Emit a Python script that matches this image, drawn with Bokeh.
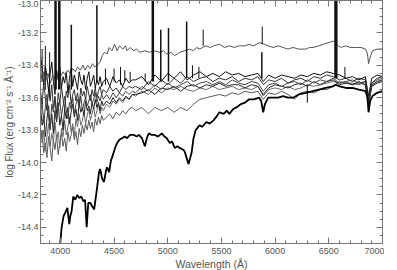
import numpy as np
from bokeh.plotting import figure
from bokeh.models import (FixedTicker, LinearAxis, Range1d, PrintfTickFormatter, ColumnDataSource,
                          CustomJSTickFormatter)
from bokeh.embed import file_html
from bokeh.resources import INLINE

# ---------------- data ----------------
wave_grid = [3815, 3830, 3845, 3860, 3875, 3890, 3905, 3920, 3935, 3950, 3965, 3980, 3995, 4010,
             4025, 4040, 4055, 4070, 4085, 4100, 4115, 4130, 4145, 4160, 4175, 4190, 4205, 4220,
             4235, 4250, 4265, 4280, 4295, 4310, 4325, 4340, 4355, 4370, 4385, 4400,
             4430, 4460, 4490, 4520, 4550, 4580, 4610, 4640, 4670,
             4700, 4760, 4820, 4880, 4940, 5000, 5060, 5120, 5180, 5240, 5300, 5360, 5420, 5480, 5540,
             5600, 5660, 5720, 5780, 5840, 5890, 5940, 6000, 6060, 6120, 6180, 6240, 6300, 6360, 6420,
             6480, 6540, 6600, 6660, 6720, 6780, 6840, 6870, 6900, 6950, 7000]

flux_m1 = [-13.34, -13.42, -13.52, -13.40, -13.47, -13.56, -13.45, -13.38, -13.50, -13.58, -13.43, -13.49,
           -13.41, -13.54, -13.47, -13.51, -13.44, -13.57, -13.48, -13.42, -13.53, -13.46, -13.50, -13.55,
           -13.44, -13.49, -13.52, -13.46, -13.55, -13.48, -13.44, -13.53, -13.50, -13.46, -13.54, -13.49,
           -13.52, -13.47, -13.53, -13.50,
           -13.48, -13.53, -13.47, -13.51, -13.49, -13.53, -13.48, -13.51, -13.49,
           -13.49, -13.47, -13.52, -13.46, -13.50, -13.45, -13.48, -13.44, -13.49, -13.46, -13.44, -13.47,
           -13.45, -13.47, -13.44, -13.46, -13.45, -13.47, -13.46, -13.45, -13.50, -13.46, -13.48, -13.46,
           -13.47, -13.48, -13.46, -13.47, -13.45, -13.46, -13.44, -13.45, -13.46, -13.48, -13.47, -13.49,
           -13.47, -13.59, -13.48, -13.46, -13.47]
flux_m2 = [-13.56, -13.64, -13.50, -13.60, -13.68, -13.55, -13.62, -13.52, -13.66, -13.59, -13.70, -13.57,
           -13.63, -13.53, -13.61, -13.67, -13.56, -13.60, -13.52, -13.64, -13.58, -13.55, -13.62, -13.57,
           -13.65, -13.54, -13.59, -13.56, -13.61, -13.53, -13.58, -13.62, -13.55, -13.59, -13.54, -13.60,
           -13.56, -13.53, -13.58, -13.55,
           -13.57, -13.53, -13.56, -13.54, -13.57, -13.53, -13.55, -13.53, -13.54,
           -13.53, -13.55, -13.50, -13.53, -13.49, -13.52, -13.48, -13.51, -13.47, -13.50, -13.48, -13.47,
           -13.50, -13.48, -13.49, -13.47, -13.50, -13.48, -13.49, -13.47, -13.52, -13.49, -13.50, -13.48,
           -13.51, -13.49, -13.48, -13.50, -13.47, -13.48, -13.46, -13.47, -13.49, -13.48, -13.50, -13.48,
           -13.49, -13.61, -13.51, -13.48, -13.47]
flux_m3 = [-13.70, -13.62, -13.76, -13.66, -13.58, -13.72, -13.80, -13.64, -13.69, -13.60, -13.74, -13.67,
           -13.62, -13.71, -13.65, -13.59, -13.68, -13.73, -13.63, -13.67, -13.60, -13.70, -13.64, -13.61,
           -13.66, -13.59, -13.68, -13.63, -13.60, -13.65, -13.62, -13.58, -13.64, -13.61, -13.57, -13.63,
           -13.59, -13.62, -13.58, -13.61,
           -13.58, -13.61, -13.57, -13.60, -13.57, -13.59, -13.56, -13.58, -13.56,
           -13.57, -13.53, -13.56, -13.52, -13.55, -13.51, -13.54, -13.52, -13.50, -13.53, -13.51, -13.50,
           -13.52, -13.50, -13.52, -13.49, -13.51, -13.52, -13.50, -13.51, -13.56, -13.52, -13.51, -13.53,
           -13.51, -13.50, -13.52, -13.49, -13.51, -13.49, -13.50, -13.48, -13.51, -13.50, -13.49, -13.51,
           -13.50, -13.64, -13.52, -13.50, -13.49]
flux_m4 = [-13.66, -13.77, -13.71, -13.84, -13.73, -13.65, -13.79, -13.70, -13.82, -13.68, -13.75, -13.63,
           -13.77, -13.71, -13.80, -13.67, -13.73, -13.66, -13.76, -13.69, -13.64, -13.72, -13.67, -13.74,
           -13.63, -13.69, -13.66, -13.71, -13.62, -13.68, -13.65, -13.70, -13.63, -13.67, -13.61, -13.66,
           -13.63, -13.68, -13.62, -13.65,
           -13.62, -13.64, -13.60, -13.63, -13.60, -13.62, -13.59, -13.61, -13.58,
           -13.58, -13.57, -13.55, -13.58, -13.54, -13.55, -13.53, -13.56, -13.53, -13.52, -13.54, -13.52,
           -13.53, -13.51, -13.53, -13.52, -13.52, -13.54, -13.52, -13.53, -13.58, -13.54, -13.52, -13.53,
           -13.54, -13.52, -13.51, -13.53, -13.50, -13.52, -13.50, -13.49, -13.52, -13.51, -13.52, -13.50,
           -13.52, -13.65, -13.53, -13.51, -13.50]
flux_g2 = [-13.78, -13.88, -13.80, -13.93, -13.84, -13.76, -13.90, -13.82, -13.87, -13.75, -13.86, -13.81,
           -13.91, -13.79, -13.84, -13.74, -13.83, -13.78, -13.72, -13.81, -13.76, -13.84, -13.73, -13.78,
           -13.70, -13.77, -13.74, -13.69, -13.76, -13.71, -13.67, -13.74, -13.70, -13.66, -13.72, -13.68,
           -13.64, -13.70, -13.66, -13.68,
           -13.64, -13.66, -13.62, -13.64, -13.61, -13.63, -13.60, -13.61, -13.58,
           -13.59, -13.56, -13.58, -13.54, -13.57, -13.54, -13.55, -13.53, -13.55, -13.56, -13.54, -13.55,
           -13.53, -13.55, -13.54, -13.53, -13.55, -13.54, -13.55, -13.53, -13.59, -13.55, -13.54, -13.55,
           -13.53, -13.55, -13.54, -13.52, -13.53, -13.52, -13.51, -13.50, -13.51, -13.50, -13.52, -13.51,
           -13.52, -13.62, -13.53, -13.50, -13.49]
flux_g1 = [-13.86, -13.80, -13.94, -13.88, -13.97, -13.84, -13.91, -13.99, -13.86, -13.92, -13.83, -13.95,
           -13.88, -13.82, -13.90, -13.85, -13.93, -13.81, -13.87, -13.83, -13.78, -13.86, -13.81, -13.89,
           -13.79, -13.84, -13.77, -13.82, -13.76, -13.80, -13.74, -13.79, -13.75, -13.81, -13.73, -13.77,
           -13.72, -13.76, -13.71, -13.74,
           -13.72, -13.70, -13.73, -13.69, -13.71, -13.68, -13.70, -13.67, -13.66,
           -13.68, -13.66, -13.70, -13.66, -13.68, -13.66, -13.69, -13.66, -13.68, -13.64, -13.61, -13.60,
           -13.59, -13.58, -13.59, -13.57, -13.58, -13.56, -13.57, -13.56, -13.61, -13.57, -13.58, -13.56,
           -13.58, -13.61, -13.57, -13.56, -13.57, -13.55, -13.55, -13.53, -13.50, -13.51, -13.51, -13.52,
           -13.50, -13.62, -13.51, -13.49, -13.48]

upper_wave = [3815, 3840, 3861, 3885, 3907, 3930, 3954, 3980, 4000, 4025, 4046, 4070, 4093, 4115, 4139,
              4160, 4185, 4210, 4231, 4255, 4278, 4300, 4320, 4343, 4370, 4390, 4410, 4435, 4455, 4481,
              4505, 4528, 4550, 4583, 4605, 4620, 4650, 4685, 4710, 4741, 4787, 4830, 4870, 4926, 4960,
              4991, 5030, 5065, 5111, 5157, 5204, 5240, 5269, 5300, 5350, 5400, 5426, 5481, 5530, 5574,
              5620, 5660, 5720, 5759, 5800, 5852, 5900, 5935, 5980, 6030, 6074, 6120, 6167, 6220, 6287,
              6320, 6352, 6407, 6450, 6500, 6540, 6590, 6611, 6657, 6700, 6750, 6800, 6843, 6860, 6870,
              6885, 6907, 6950, 7000]
upper_flux = [-13.49, -13.44, -13.50, -13.45, -13.51, -13.46, -13.49, -13.45, -13.47, -13.44, -13.46,
              -13.43, -13.45, -13.42, -13.44, -13.41, -13.43, -13.40, -13.43, -13.40, -13.42, -13.39,
              -13.41, -13.40, -13.38, -13.34, -13.32, -13.33, -13.29, -13.31, -13.27, -13.31, -13.28,
              -13.30, -13.28, -13.31, -13.29, -13.31, -13.30, -13.32, -13.31, -13.32, -13.31, -13.32,
              -13.31, -13.33, -13.32, -13.34, -13.32, -13.31, -13.30, -13.31, -13.29, -13.30, -13.28,
              -13.29, -13.28, -13.27, -13.29, -13.28, -13.29, -13.28, -13.28, -13.27, -13.28, -13.26,
              -13.27, -13.28, -13.29, -13.28, -13.29, -13.30, -13.29, -13.30, -13.30, -13.29, -13.29,
              -13.28, -13.27, -13.26, -13.25, -13.28, -13.29, -13.28, -13.29, -13.29, -13.29, -13.30,
              -13.33, -13.39, -13.35, -13.31, -13.30, -13.30]

bold_wave = [3990, 4000, 4012, 4030, 4046, 4065, 4083, 4093, 4105, 4120, 4139, 4158, 4176, 4195, 4215,
             4230, 4245, 4260, 4280, 4296, 4315, 4343, 4360, 4370, 4390, 4407, 4425, 4435, 4454, 4470,
             4481, 4500, 4515, 4528, 4550, 4574, 4600, 4620, 4650, 4685, 4710, 4731, 4760, 4787, 4805,
             4824, 4850, 4880, 4910, 4944, 4970, 4991, 5019, 5040, 5065, 5090, 5111, 5140, 5157, 5175,
             5194, 5210, 5222, 5240, 5260, 5296, 5320, 5361, 5390, 5426, 5450, 5481, 5520, 5550, 5574,
             5610, 5639, 5680, 5720, 5759, 5800, 5852, 5870, 5889, 5905, 5935, 5980, 6030, 6074, 6120,
             6167, 6220, 6287, 6350, 6407, 6470, 6537, 6565, 6600, 6660, 6722, 6780, 6843, 6860, 6870,
             6885, 6907, 6950, 7000]
bold_flux = [-14.58, -14.49, -14.40, -14.33, -14.31, -14.28, -14.38, -14.33, -14.30, -14.21, -14.23,
             -14.20, -14.22, -14.21, -14.24, -14.23, -14.40, -14.25, -14.25, -14.27, -14.29, -14.15,
             -14.06, -14.04, -14.10, -14.12, -14.05, -14.03, -14.06, -13.99, -13.97, -13.93, -13.90,
             -13.88, -13.86, -13.85, -13.84, -13.85, -13.83, -13.83, -13.84, -13.83, -13.85, -13.90,
             -13.85, -13.82, -13.83, -13.83, -13.84, -13.82, -13.84, -13.85, -13.88, -13.87, -13.91,
             -13.90, -13.91, -13.92, -13.93, -13.97, -14.01, -13.97, -13.94, -13.85, -13.80, -13.77,
             -13.78, -13.75, -13.76, -13.74, -13.72, -13.69, -13.70, -13.68, -13.70, -13.67, -13.66,
             -13.64, -13.63, -13.61, -13.61, -13.60, -13.62, -13.69, -13.64, -13.60, -13.60, -13.60,
             -13.59, -13.60, -13.60, -13.58, -13.57, -13.56, -13.55, -13.54, -13.53, -13.52, -13.53,
             -13.54, -13.54, -13.55, -13.56, -13.60, -13.69, -13.62, -13.59, -13.57, -13.56]

# narrow emission / glitch features
spike_wave = [3830, 3860, 3900, 3955, 3990, 4102, 4340, 4420, 4500, 4560, 4600, 4650, 4790, 4861,
              4935, 5007, 5176, 5230, 5290, 5330, 5876, 5880, 6300, 6560, 6572, 6650]
spike_base = [-13.50, -13.55, -13.60, -13.55, -13.55, -13.55, -13.50, -13.52, -13.50, -13.52, -13.50,
              -13.50, -13.50, -13.50, -13.50, -13.50, -13.48, -13.48, -13.48, -13.28, -13.48, -13.27,
              -13.52, -13.48, -13.48, -13.48]
spike_top = [-13.30, -13.28, -13.32, -12.95, -12.95, -13.15, -13.03, -13.42, -13.42, -13.41, -13.43,
             -13.44, -13.45, -12.95, -13.18, -13.17, -13.13, -13.40, -13.41, -13.18, -13.32, -13.16,
             -13.63, -12.95, -12.95, -13.41]
spike_lw = [1, 1, 1, 2.5, 2.5, 1.5, 1.5, 1, 1, 1, 1, 1, 1, 2.5, 1.5, 1.5, 1.5, 1, 1, 1, 1.5, 1, 1,
            2, 2, 1]

x_ticks = [4000, 4500, 5000, 5500, 6000, 6500, 7000]
y_ticks = [-14.4, -14.2, -14.0, -13.8, -13.6, -13.4, -13.2, -13.0]

# ---------------- plot ----------------
FONT = "Liberation Sans"
AX = "#777777"
LAB = "#555555"

p = figure(width=384, height=272, x_range=Range1d(3815, 7000), y_range=Range1d(-14.5, -13.0),
           output_backend="svg", toolbar_location=None,
           min_border_left=0, min_border_right=2, min_border_top=0, min_border_bottom=0)
p.xgrid.visible = False
p.ygrid.visible = False
p.outline_line_color = AX
p.background_fill_color = "white"
p.border_fill_color = "white"

xminor = list(range(3900, 7001, 100))
yminor = [round(-14.5 + 0.05 * i, 2) for i in range(31)]
xt = FixedTicker(ticks=x_ticks, minor_ticks=xminor)
yt = FixedTicker(ticks=y_ticks, minor_ticks=yminor)


def style(ax, title_size="10.5px"):
    ax.axis_line_color = AX
    ax.major_tick_line_color = AX
    ax.minor_tick_line_color = AX
    ax.major_tick_in = 6
    ax.major_tick_out = 0
    ax.minor_tick_in = 3
    ax.minor_tick_out = 0
    ax.major_label_text_font = FONT
    ax.major_label_text_color = LAB
    ax.major_label_text_font_size = "9px"
    ax.axis_label_text_font = FONT
    ax.axis_label_text_color = LAB
    ax.axis_label_text_font_size = title_size
    ax.axis_label_text_font_style = "normal"


p.xaxis.ticker = xt
p.yaxis.ticker = yt
p.yaxis.formatter = PrintfTickFormatter(format="%.1f")
p.xaxis.axis_label = "Wavelength (Å)"
p.yaxis.axis_label = "log Flux (erg cm⁻² s⁻¹ Å⁻¹)"
style(p.xaxis[0])
style(p.yaxis[0], "10px")
p.xaxis.major_label_standoff = 4
p.xaxis.axis_label_standoff = 1
p.yaxis.major_label_standoff = 2
p.yaxis.axis_label_standoff = 0

blank = CustomJSTickFormatter(code="return '';")
top = LinearAxis(ticker=xt, major_label_standoff=0, formatter=blank)
style(top)
p.add_layout(top, "above")
right = LinearAxis(ticker=yt, major_label_standoff=0, formatter=blank)
style(right)
p.add_layout(right, "right")

series = [(flux_g1, "#5a5a5a"), (flux_g2, "#6a6a6a"), (flux_m4, "#222222"), (flux_m3, "#444444"),
          (flux_m2, "#333333"), (flux_m1, "#111111")]
for fl, col in series:
    p.line(wave_grid, fl, line_color=col, line_width=1)

p.line(upper_wave, upper_flux, line_color="#555555", line_width=1)

src = ColumnDataSource(dict(x=spike_wave, y0=spike_base, y1=spike_top, lw=spike_lw))
p.segment(x0="x", y0="y0", x1="x", y1="y1", line_width="lw", line_color="#111111", source=src)

p.line(bold_wave, bold_flux, line_color="#000000", line_width=1.8)

open("out.html", "w").write(file_html(p, INLINE))
